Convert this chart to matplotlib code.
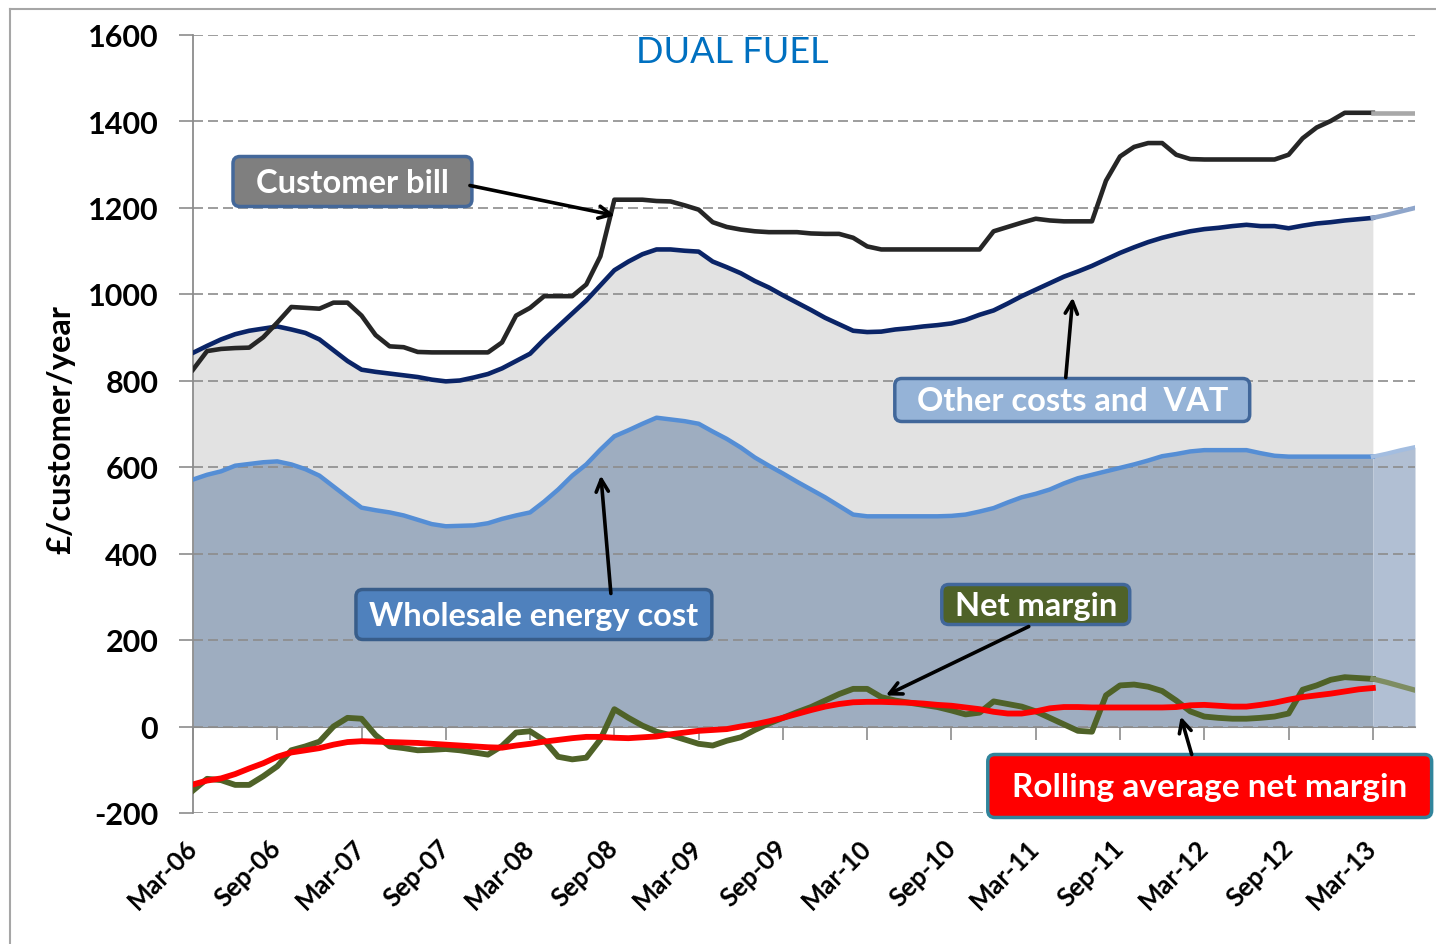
import matplotlib
matplotlib.use("Agg")
import matplotlib.pyplot as plt
from matplotlib.patches import FancyBboxPatch
from matplotlib.lines import Line2D
import numpy as np

plt.rcParams['font.family'] = ['Lato', 'DejaVu Sans']

# ---------------- data (monthly, Mar-06 .. Mar-13, then projection to Jun-13) -------------
tick_labels = ["Mar-06", "Sep-06", "Mar-07", "Sep-07", "Mar-08", "Sep-08", "Mar-09", "Sep-09",
               "Mar-10", "Sep-10", "Mar-11", "Sep-11", "Mar-12", "Sep-12", "Mar-13"]

customer_bill = [825, 868, 873, 875, 876, 900, 934, 970, 968, 966,
                 980, 980, 950, 905, 879, 877, 866, 865, 865, 865,
                 865, 865, 888, 950, 968, 995, 995, 995, 1022, 1087,
                 1218, 1218, 1218, 1215, 1214, 1205, 1195, 1166, 1155, 1149,
                 1145, 1143, 1143, 1143, 1140, 1139, 1139, 1130, 1110, 1103,
                 1103, 1103, 1103, 1103, 1103, 1103, 1103, 1145, 1155, 1165,
                 1174, 1170, 1168, 1168, 1168, 1262, 1318, 1340, 1349, 1349,
                 1322, 1312, 1311, 1311, 1311, 1311, 1311, 1311, 1322, 1360,
                 1385, 1400, 1419, 1419, 1419]
customer_bill_proj = [1419, 1419, 1419, 1419]

total_cost = [864, 880, 895, 907, 915, 920, 925, 918, 910, 895,
              870, 845, 825, 820, 816, 812, 808, 802, 798, 800,
              807, 815, 828, 845, 862, 895, 925, 955, 985, 1020,
              1055, 1075, 1092, 1103, 1103, 1100, 1098, 1075, 1062, 1048,
              1030, 1015, 997, 980, 963, 945, 930, 915, 912, 913,
              918, 921, 925, 928, 932, 940, 952, 962, 978, 995,
              1010, 1025, 1040, 1052, 1065, 1080, 1095, 1108, 1120, 1130,
              1138, 1145, 1150, 1153, 1157, 1160, 1157, 1157, 1152, 1158,
              1163, 1166, 1170, 1173, 1176]
total_cost_proj = [1176, 1183, 1191, 1199]

wholesale = [571, 582, 590, 603, 607, 611, 613, 606, 595, 580,
             555, 530, 506, 500, 495, 488, 478, 468, 463, 464,
             465, 470, 480, 488, 495, 520, 548, 580, 606, 640,
             671, 685, 700, 714, 710, 706, 700, 682, 665, 645,
             622, 603, 585, 566, 548, 530, 510, 490, 486, 486,
             486, 486, 486, 486, 487, 490, 497, 505, 518, 530,
             538, 548, 562, 574, 582, 590, 598, 606, 615, 625,
             630, 636, 639, 639, 639, 639, 632, 626, 624, 624,
             624, 624, 624, 624, 624]
wholesale_proj = [624, 631, 639, 646]

net_margin = [-148, -121, -124, -135, -135, -115, -92, -55, -46, -35,
              0, 20, 18, -20, -46, -50, -55, -54, -52, -55,
              -60, -65, -45, -14, -11, -32, -70, -76, -72, -30,
              40, 20, 2, -12, -20, -30, -40, -44, -33, -25,
              -8, 7, 20, 33, 45, 60, 75, 87, 87, 68,
              60, 55, 50, 45, 37, 28, 32, 58, 52, 46,
              35, 20, 5, -10, -12, 72, 95, 97, 92, 82,
              60, 35, 23, 20, 18, 18, 20, 23, 30, 85,
              95, 108, 114, 112, 110]
net_margin_proj = [110, 102, 93, 84]

rolling_avg = [-134, -125, -120, -110, -97, -85, -70, -60, -55, -50,
               -42, -36, -34, -35, -36, -37, -38, -40, -42, -44,
               -46, -48, -49, -44, -40, -35, -31, -27, -24, -24,
               -26, -27, -25, -23, -18, -14, -10, -8, -6, 0,
               5, 12, 20, 29, 38, 46, 52, 56, 57, 57,
               56, 55, 53, 50, 48, 44, 40, 34, 30, 30,
               35, 42, 45, 45, 44, 44, 44, 44, 44, 44,
               45, 49, 50, 48, 46, 46, 50, 55, 62, 68,
               72, 76, 81, 86, 89]

# ---------------- figure -------------
W, H = 1436, 945
fig = plt.figure(figsize=(W / 100, H / 100), dpi=100)
ax = fig.add_axes([193 / W, 1 - 814 / H, (1415 - 193) / W, (814 - 35.5) / H])

m = np.arange(len(customer_bill))
mp = np.arange(len(customer_bill) - 1, len(customer_bill) - 1 + len(customer_bill_proj))

# fills
ax.fill_between(m, wholesale, total_cost, color='#e2e2e2', lw=0, zorder=1)
ax.fill_between(m, 0, wholesale, color='#9eadc0', lw=0, zorder=1)
ax.fill_between(mp, 0, wholesale_proj, color='#b1bfd3', lw=0, zorder=1)

# lines
ax.plot(m, wholesale, color='#558ed5', lw=3.2, zorder=3, solid_joinstyle='round')
ax.plot(mp, wholesale_proj, color='#a3bde0', lw=3.0, zorder=3)
ax.plot(m, total_cost, color='#0a2467', lw=3.3, zorder=3, solid_joinstyle='round')
ax.plot(mp, total_cost_proj, color='#8fa6cb', lw=3.3, zorder=3)
ax.plot(m, customer_bill, color='#262626', lw=3.3, zorder=3, solid_joinstyle='round')
ax.plot(mp, customer_bill_proj, color='#a8a8a8', lw=3.3, zorder=3)
ax.plot(m, net_margin, color='#4f6228', lw=4.2, zorder=3, solid_joinstyle='round')
ax.plot(mp, net_margin_proj, color='#7e8d62', lw=3.8, zorder=3)
ax.plot(m, rolling_avg, color='#ff0000', lw=4.2, zorder=4, solid_joinstyle='round')

# axes styling
ax.set_xlim(0, len(customer_bill) - 1 + len(customer_bill_proj) - 1)
ax.set_ylim(-200, 1600)
ax.set_yticks(np.arange(-200, 1601, 200))
ax.set_yticklabels([str(v) for v in range(-200, 1601, 200)], fontsize=22, fontweight='bold')
ax.tick_params(axis='y', length=10, width=1.2, color='#8c8c8c', pad=15)
ax.set_axisbelow('line')
ax.yaxis.grid(True, linestyle=(0, (6, 3)), color='#8c8c8c', lw=1.2)
for s in ['top', 'right', 'bottom']:
    ax.spines[s].set_visible(False)
ax.spines['left'].set_color('#8c8c8c')
ax.spines['left'].set_linewidth(1.3)

xt = np.arange(0, len(customer_bill), 6)
ax.set_xticks(xt)
ax.set_xticklabels(tick_labels, rotation=45, ha='right', va='center',
                   rotation_mode='anchor', fontsize=18.5, fontweight='bold')
ax.tick_params(axis='x', length=0, pad=22)

# zero axis with tick marks
sec = ax.secondary_xaxis(200 / 1800)
sec.set_xticks(xt)
sec.set_xticklabels([])
sec.tick_params(axis='x', length=9, width=1.2, color='#8c8c8c', direction='out')
sec.spines['bottom'].set_color('#8c8c8c')
sec.spines['bottom'].set_linewidth(1.5)

fig.text(61 / W, 1 - 430 / H, "£/customer/year", rotation=90, ha='center', va='center',
         fontsize=23.5, fontweight='bold')


def X(px):
    return (px - 193) / 14.05


def Y(py):
    return (727 - py) / 0.4325


ax.text(X(732), Y(52), "DUAL FUEL", color='#0070c0', fontsize=26, ha='center', va='center', zorder=6)

asp = 14.05 / 0.4325


def box(x0, y0, x1, y1, text, fc, ec, fs):
    p = FancyBboxPatch((X(x0), Y(y1)), X(x1) - X(x0), Y(y0) - Y(y1),
                       boxstyle="round,pad=0,rounding_size=0.5", mutation_aspect=asp,
                       fc=fc, ec=ec, lw=2.5, zorder=7, clip_on=False, transform=ax.transData)
    ax.add_patch(p)
    ax.text(X((x0 + x1) / 2), Y((y0 + y1) / 2 + 1), text, color='white', fontsize=fs,
            fontweight='bold', ha='center', va='center', zorder=8, clip_on=False)


def arrow(x0, y0, x1, y1):
    ax.annotate("", xy=(X(x1), Y(y1)), xytext=(X(x0), Y(y0)),
                arrowprops=dict(arrowstyle='->', lw=2.6, color='black', mutation_scale=22,
                                shrinkA=0, shrinkB=0), zorder=9, annotation_clip=False)


box(233, 157, 472, 207, "Customer bill", '#7f7f7f', '#44689a', 23.5)
arrow(470, 186, 615, 216)
box(895, 379, 1250, 422, "Other costs and  VAT", '#95b3d7', '#41679a', 23.5)
arrow(1066, 378, 1073, 298)
box(356, 590, 712, 640, "Wholesale energy cost", '#4f81bd', '#385d8a', 23.5)
arrow(611, 594, 601, 476)
box(942, 585, 1130, 625, "Net margin", '#4f6228', '#41679a', 23.5)
arrow(1029, 627, 886, 696)
box(988, 755, 1432, 818, "Rolling average net margin", '#ff0000', '#31859c', 24)
arrow(1192, 755, 1181, 717)

# outer chart frame
fig.add_artist(Line2D([10 / W, 10 / W], [0, 1 - 10 / H], transform=fig.transFigure, color='#a6a6a6', lw=1.5))
fig.add_artist(Line2D([10 / W, 1], [1 - 10 / H, 1 - 10 / H], transform=fig.transFigure, color='#a6a6a6', lw=1.5))

fig.savefig("out.png", dpi=100)
